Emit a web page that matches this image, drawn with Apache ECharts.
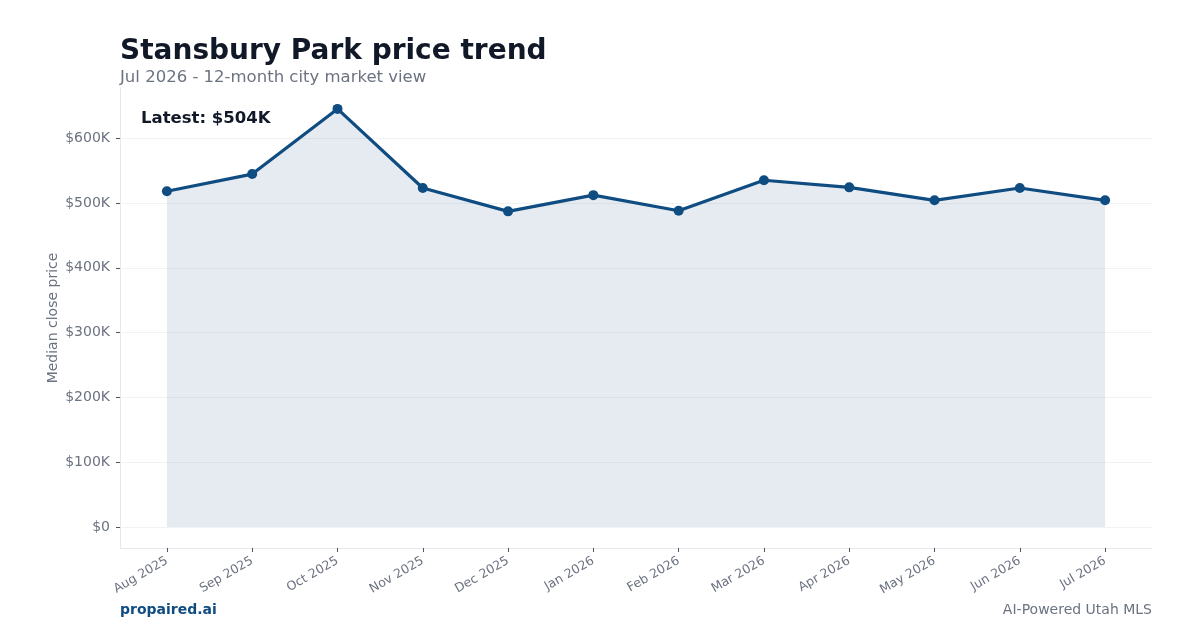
<!DOCTYPE html>
<html>
<head>
<meta charset="utf-8">
<script src="https://cdn.jsdelivr.net/npm/echarts@6/dist/echarts.min.js"></script>
<style>
  html, body { margin: 0; padding: 0; background: #fff; }
  #chart { width: 1200px; height: 630px; }
</style>
</head>
<body>
<div id="chart"></div>
<script>
// 月份与中位成交价
var months = ['Aug 2025', 'Sep 2025', 'Oct 2025', 'Nov 2025', 'Dec 2025', 'Jan 2026',
  'Feb 2026', 'Mar 2026', 'Apr 2026', 'May 2026', 'Jun 2026', 'Jul 2026'];
var prices = [518000, 544500, 645000, 523000, 487000, 512000,
  488000, 535000, 524000, 504000, 523000, 504000];
var yTicks = [0, 100000, 200000, 300000, 400000, 500000, 600000];

(function () {
  var font = 'DejaVu Sans';
  var myChart = echarts.init(document.getElementById('chart'));
  var xIdx = months.map(function (m, i) { return i; });
  var data = prices.map(function (v, i) { return [i, v]; });
  var latest = prices[prices.length - 1];
  var yMax = Math.max.apply(null, prices);
  var pad = yMax * 0.05;

  myChart.setOption({
    animation: false,
    backgroundColor: '#ffffff',
    title: [
      { text: 'Stansbury Park price trend', left: 115, top: 33,
        textStyle: { fontFamily: font, fontSize: 28, fontWeight: 'bold', color: '#111827' } },
      { text: 'Jul 2026 - 12-month city market view', left: 115, top: 64,
        textStyle: { fontFamily: font, fontSize: 16.5, fontWeight: 'normal', color: '#6b7280' } }
    ],
    graphic: [
      { type: 'text', left: 141, top: 110,
        style: { text: 'Latest: $' + Math.round(latest / 1000) + 'K', font: 'bold 16.5px "DejaVu Sans"', fill: '#111827' } },
      { type: 'text', left: 120, top: 603,
        style: { text: 'propaired.ai', font: 'bold 14px "DejaVu Sans"', fill: '#0f4c81' } },
      { type: 'text', right: 48, top: 603,
        style: { text: 'AI-Powered Utah MLS', font: '14px "DejaVu Sans"', fill: '#6b7280' } }
    ],
    grid: { left: 120, right: 48, top: 88, bottom: 82 },
    xAxis: {
      type: 'value',
      min: -0.55,
      max: months.length - 1 + 0.55,
      axisLine: { show: true, onZero: false, lineStyle: { color: '#e5e7eb', width: 1 } },
      axisTick: { show: true, customValues: xIdx, length: 4, lineStyle: { color: '#4b5563' } },
      axisLabel: {
        customValues: xIdx, rotate: 30, margin: 12,
        fontFamily: font, fontSize: 12.5, color: '#6b7280',
        formatter: function (v) { return months[Math.round(v)] || ''; }
      },
      splitLine: { show: false }
    },
    yAxis: {
      type: 'value',
      min: -pad,
      max: yMax + pad,
      name: 'Median close price',
      nameLocation: 'middle',
      nameGap: 60,
      nameMoveOverlap: false,
      nameTextStyle: { fontFamily: font, fontSize: 14, color: '#6b7280' },
      axisLine: { show: true, onZero: false, lineStyle: { color: '#e5e7eb', width: 1 } },
      axisTick: { show: true, customValues: yTicks, length: 4, lineStyle: { color: '#4b5563' } },
      axisLabel: {
        customValues: yTicks, margin: 10,
        fontFamily: font, fontSize: 14, color: '#6b7280',
        formatter: function (v) { return '$' + Math.round(v / 1000) + (v === 0 ? '' : 'K'); }
      },
      splitLine: { show: false }
    },
    series: [{
      type: 'line',
      data: data,
      symbol: 'circle',
      symbolSize: 10,
      lineStyle: { color: '#0f4c81', width: 3.2 },
      itemStyle: { color: '#0f4c81' },
      areaStyle: { color: 'rgba(15,76,129,0.11)', opacity: 1, origin: 0 },
      markLine: {
        silent: true, symbol: 'none', z: 0,
        label: { show: false },
        lineStyle: { color: '#f1f2f4', width: 1, type: 'solid' },
        data: yTicks.map(function (t) { return { yAxis: t }; })
      },
      z: 3
    }]
  });
})();
</script>
</body>
</html>
